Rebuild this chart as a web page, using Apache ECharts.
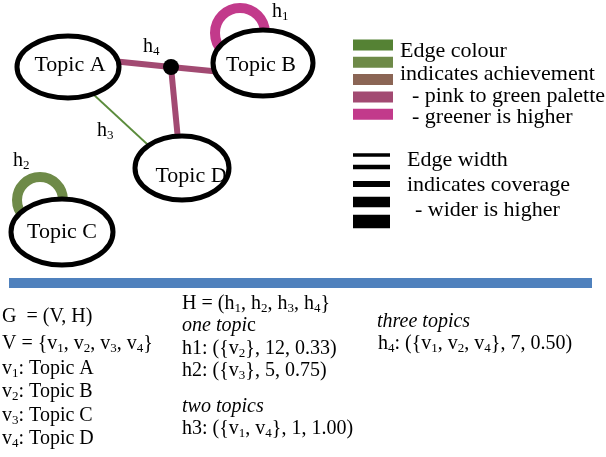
<!DOCTYPE html>
<html><head><meta charset="utf-8">
<script src="https://cdn.jsdelivr.net/npm/echarts@6/dist/echarts.min.js"></script>
<style>html,body{margin:0;padding:0;background:#fff}#c{width:606px;height:457px}</style>
</head><body><div id="c"></div>
<script>
// ---------- data ----------
const topicNames = ['Topic A', 'Topic B', 'Topic C', 'Topic D'];
const vertexIndex = [1, 2, 3, 4];
const edgeIndex = [1, 2, 3, 4];
const edgeMembers = [[2], [3], [1, 4], [1, 2, 4]];
const edgeCoverage = [12, 5, 1, 7];
const edgeAchievement = [0.33, 0.75, 1.00, 0.50];
const groupTitles = ['one topic', 'two topics', 'three topics'];
const legendColourText = ['Edge colour', 'indicates achievement', '- pink to green palette', '- greener is higher'];
const legendWidthText = ['Edge width', 'indicates coverage', '- wider is higher'];

// ---------- styles / layout ----------
const achievementPalette = ['#558234', '#6e8a48', '#8b6555', '#a24a72', '#c23a8b'];
const coverageSwatchH = [3.3, 4.3, 6, 10.5, 13.3];
const coverageSwatchY = [155, 167, 184, 202, 221.5];
const edgeColour = ['#c23a8b', '#6e8a48', '#5b8c3c', '#a24a72'];
const edgeWidth = [10, 10, 1.8, 6];
const nodeLayout = [[68, 67, 51, 31], [263, 63, 50, 33], [62, 232, 51, 33], [182, 168, 47, 32]];
const nodeLabelPos = [[70, 73], [261, 73], [62, 240], [191, 184]];
const loopLayout = {0: [240, 33, 25], 1: [40, 200, 23]};
const edgePorts = {2: [[80, 82], [160, 156]], 3: [[112, 61], [222, 72], [179, 150]]};
const hubPos = [171, 67];
const edgeLabelPos = [[272, 18], [13, 167], [97, 137], [143, 53]];

const FAM = '"Liberation Serif", "Times New Roman", serif';
function fontStr(fs, italic) { return (italic ? 'italic ' : '') + fs + 'px ' + FAM; }
function txt(x, base, str, fs, align, italic) {
  const lh = Math.round(fs * 1.2);
  const sfs = Math.round(fs * 0.65);
  return {
    type: 'text', z: 50,
    style: {
      x: x, y: base - lh / 2 - 0.3375 * fs, text: str,
      font: fontStr(fs, italic),
      fontFamily: FAM, fontSize: fs, fontStyle: italic ? 'italic' : 'normal',
      lineHeight: lh, fill: '#000',
      align: align || 'left', textAlign: align || 'left',
      verticalAlign: 'top', textVerticalAlign: 'top',
      rich: {
        s: {font: fontStr(sfs), fontFamily: FAM, fontSize: sfs, lineHeight: sfs, verticalAlign: 'bottom', fill: '#000'},
        i: {font: fontStr(fs, true), fontFamily: FAM, fontSize: fs, fontStyle: 'italic', lineHeight: lh, fill: '#000'}
      }
    }
  };
}
const sub = n => '{s|' + n + '}';
const vName = n => 'v' + sub(n);
const setStr = m => '{' + m.map(vName).join(', ') + '}';

// ---------- graphic texts ----------
const graphics = [];
graphics.push({type: 'rect', z: 5, shape: {x: 9, y: 278, width: 583, height: 10}, style: {fill: '#4f81bd'}});
achievementPalette.forEach((c, k) => graphics.push({type: 'rect', z: 5, shape: {x: 353, y: 39.5 + k * 17.3, width: 40, height: 11}, style: {fill: c}}));
coverageSwatchH.forEach((h, k) => graphics.push({type: 'rect', z: 5, shape: {x: 353, y: coverageSwatchY[k] - h / 2, width: 37, height: h}, style: {fill: '#000'}}));
const lcX = [400, 400, 412, 412], lcB = [59, 82, 104, 125];
legendColourText.forEach((t, k) => graphics.push(txt(lcX[k], lcB[k], t, 22)));
const lwX = [407, 407, 415], lwB = [168, 193, 218];
legendWidthText.forEach((t, k) => graphics.push(txt(lwX[k], lwB[k], t, 22)));
// hyperedge labels on diagram
edgeIndex.forEach((n, k) => graphics.push(txt(edgeLabelPos[k][0], edgeLabelPos[k][1], 'h' + sub(n), 20)));
// topic labels
topicNames.forEach((t, k) => graphics.push(txt(nodeLabelPos[k][0], nodeLabelPos[k][1], t, 22, 'center')));
// bottom text
graphics.push(txt(2, 323, 'G  = (V, H)', 20));
graphics.push(txt(2, 350, 'V = ' + setStr(vertexIndex), 20));
const vB = [375, 398, 422, 445];
topicNames.forEach((t, k) => graphics.push(txt(2, vB[k], vName(vertexIndex[k]) + ': ' + t, 20)));
graphics.push(txt(182, 310, 'H = (' + edgeIndex.map(n => 'h' + sub(n)).join(', ') + '}', 20));
const edgeLine = k => (k === 3 ? 'h' + sub(edgeIndex[k]) : 'h' + edgeIndex[k]) + ': (' + setStr(edgeMembers[k]) + ', ' + edgeCoverage[k] + ', ' + edgeAchievement[k].toFixed(2) + ')';
graphics.push(txt(182, 332, '{i|' + groupTitles[0].slice(0, -1) + '}' + groupTitles[0].slice(-1), 20));
graphics.push(txt(182, 355, edgeLine(0), 20));
graphics.push(txt(182, 377, edgeLine(1), 20));
graphics.push(txt(182, 413, groupTitles[1], 20, 'left', true));
graphics.push(txt(182, 435, edgeLine(2), 20));
graphics.push(txt(377, 328, groupTitles[2], 20, 'left', true));
graphics.push(txt(378, 350, edgeLine(3), 20));

// ---------- series ----------
function renderEdge(params, api) {
  const k = api.value(0);
  const m = edgeMembers[k];
  const style = {stroke: edgeColour[k], lineWidth: edgeWidth[k], fill: 'none'};
  if (m.length === 1) {
    const L = loopLayout[k];
    const c = api.coord([L[0], L[1]]);
    const r = api.size([L[2], 0])[0];
    return {type: 'circle', shape: {cx: c[0], cy: c[1], r: r}, style: style};
  }
  if (m.length === 2) {
    const a = api.coord(edgePorts[k][0]), b = api.coord(edgePorts[k][1]);
    return {type: 'line', shape: {x1: a[0], y1: a[1], x2: b[0], y2: b[1]}, style: style};
  }
  const h = api.coord(hubPos);
  return {type: 'group', children: edgePorts[k].map(p => {
    const q = api.coord(p);
    return {type: 'line', shape: {x1: h[0], y1: h[1], x2: q[0], y2: q[1]}, style: style};
  })};
}
function renderNode(params, api) {
  const k = api.value(0);
  const L = nodeLayout[k];
  const c = api.coord([L[0], L[1]]);
  const s = api.size([L[2], L[3]]);
  return {type: 'ellipse', shape: {cx: c[0], cy: c[1], rx: s[0], ry: s[1]}, style: {fill: '#fff', stroke: '#000', lineWidth: 5}};
}
function renderHub(params, api) {
  const c = api.coord(hubPos);
  return {type: 'circle', shape: {cx: c[0], cy: c[1], r: 8}, style: {fill: '#000'}};
}

const chart = echarts.init(document.getElementById('c'), null, {renderer: 'canvas'});
chart.setOption({
  animation: false,
  backgroundColor: '#fff',
  grid: {left: 0, right: 0, top: 0, bottom: 0, containLabel: false},
  xAxis: {type: 'value', min: 0, max: 606, show: false},
  yAxis: {type: 'value', min: 0, max: 457, inverse: true, show: false},
  graphic: graphics,
  series: [
    {type: 'custom', z: 1, clip: false, renderItem: renderEdge, data: edgeIndex.map((n, k) => [k])},
    {type: 'custom', z: 2, clip: false, renderItem: renderNode, data: topicNames.map((t, k) => [k])},
    {type: 'custom', z: 3, clip: false, renderItem: renderHub, data: [[0]]}
  ]
});
</script></body></html>
